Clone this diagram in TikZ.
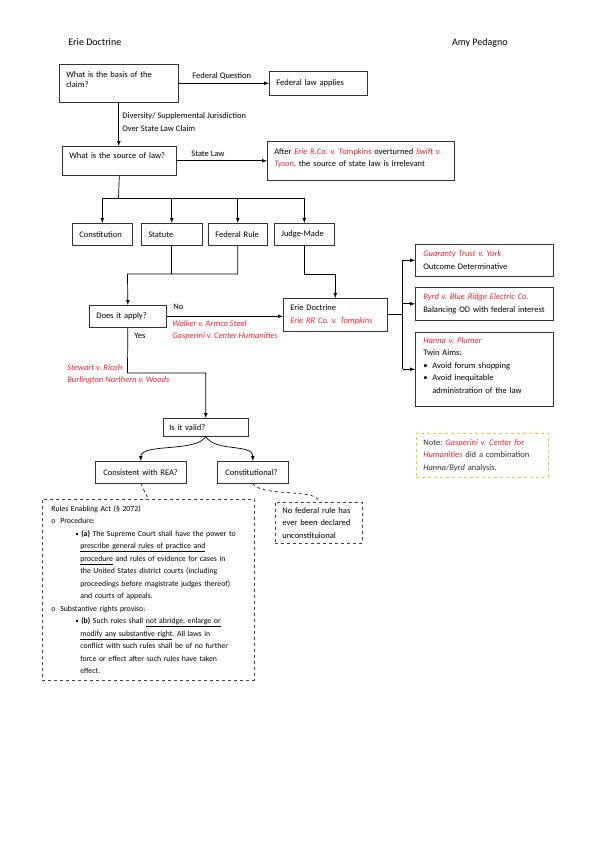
\documentclass[tikz,border=0pt]{standalone}
\usepackage{fontspec}
\setmainfont{Carlito}
\usepackage{tikz}

\definecolor{casered}{RGB}{232,34,46}
\definecolor{notegold}{RGB}{242,196,60}
\newcommand{\case}[1]{\textcolor{casered}{\textit{#1}}}
\newcommand{\sqb}{\raisebox{1.5pt}{\rule{2.1pt}{2.1pt}}}
\frenchspacing

\begin{document}
\begin{tikzpicture}[x=1pt,y=-1pt,>=latex,line width=0.7pt]
        \tikzstyle{every node} = [rectangle, inner sep=0pt, font=\fontsize{8.5}{12.5}\selectfont]
        \tikzstyle{box} = [draw=black!80, line width=0.6pt, anchor=north west, inner xsep=7pt, inner ysep=1pt, align=left]
        \tikzstyle{rbox} = [box, dashed, draw=black!75]
        \tikzstyle{lbl} = [anchor=base west]
        \useasboundingbox (0,0) rectangle (595,842);

        \node[anchor=base west, font=\fontsize{10}{12}\selectfont] (title) at (68,45.5) {Erie Doctrine};
        \node[anchor=base east, font=\fontsize{10}{12}\selectfont] (author) at (508,45.5) {Amy Pedagno};

        % questions and sources
        \node[box, text width=105pt, minimum height=38pt, text depth=18pt, font=\fontsize{8.5}{10}\selectfont] (basis) at (59,64) {What is the basis of the\\claim?};
        \node[box, text width=84pt, minimum height=24pt] (fedlaw) at (269,71) {Federal law applies};
        \node[box, text width=100pt, minimum height=29pt, text depth=11pt] (source) at (62,146) {What is the source of law?};
        \node[box, text width=173pt, minimum height=39pt, text depth=19pt] (irrel) at (267,141) {After \case{Erie R.Co. v.} \textcolor{casered}{Tompkins} overturned \case{Swift v.}\\\case{Tyson}, the source of state law is irrelevant};
        \node[box, text width=46pt, minimum height=22pt] (const) at (72,223) {Constitution};
        \node[box, text width=47pt, minimum height=22pt] (statute) at (141,223) {Statute};
        \node[box, text width=45pt, minimum height=22pt] (fedrule) at (208,223) {Federal Rule};
        \node[box, text width=46pt, minimum height=22pt] (judge) at (274,223) {Judge-Made};
        \node[box, text width=63pt, minimum height=22pt] (apply) at (89,305) {Does it apply?};
        \node[box, text width=90pt, minimum height=33pt] (erie) at (283,298) {Erie Doctrine\\\case{Erie RR Co. v. Tompkins}};

        % right column
        \node[box, inner xsep=8pt, text width=122pt, minimum height=32pt] (guar) at (415,244) {\case{Guaranty Trust v. York}\\Outcome Determinative};
        \node[box, inner xsep=8pt, text width=122pt, minimum height=33pt] (byrd) at (415,287) {\case{Byrd v. Blue Ridge Electric Co.}\\Balancing OD with federal interest};
        \node[box, inner xsep=8pt, text width=122pt, minimum height=74pt, text depth=58pt] (hanna) at (415,332) {\case{Hanna v. Plumer}\\Twin Aims:\\\makebox[9pt][l]{\textbullet}Avoid forum shopping\\\makebox[9pt][l]{\textbullet}Avoid inequitable\\\hspace*{9pt}administration of the law};
        \node[box, dashed, draw=notegold, text=black!80, text width=118pt, minimum height=44pt] (note) at (416,433) {Note: \case{Gasperini v. Center for}\\\case{Humanities} did a combination\\\textit{Hanna/Byrd} analysis.};

        % validity
        \node[box, inner xsep=6pt, text width=73pt, minimum height=18pt] (valid) at (163,418) {Is it valid?};
        \node[box, inner xsep=8pt, text width=75pt, minimum height=22pt] (rea) at (95,461) {Consistent with REA?};
        \node[box, inner xsep=8pt, text width=55pt, minimum height=22pt] (constq) at (217,461) {Constitutional?};
        \node[rbox, inner xsep=9pt, text width=194pt, minimum height=181pt, font=\fontsize{7.8}{12.5}\selectfont] (rules) at (42,499) {\mbox{Rules Enabling Act (§ 2072)}\\
            \mbox{\makebox[9pt][l]{o}Procedure:}\\
            \mbox{\hspace*{25pt}\makebox[5pt][l]{\sqb}\textbf{(a)} The Supreme Court shall have the power to}\\
            \mbox{\hspace*{29pt}\underline{prescribe general rules of practice and}}\\
            \mbox{\hspace*{29pt}\underline{procedure} and rules of evidence for cases in}\\
            \mbox{\hspace*{29pt}the United States district courts (including}\\
            \mbox{\hspace*{29pt}proceedings before magistrate judges thereof)}\\
            \mbox{\hspace*{29pt}and courts of appeals.}\\
            \mbox{\makebox[9pt][l]{o}Substantive rights proviso:}\\
            \mbox{\hspace*{25pt}\makebox[5pt][l]{\sqb}\textbf{(b)} Such rules shall \underline{not abridge, enlarge or}}\\
            \mbox{\hspace*{29pt}\underline{modify any substantive right}. All laws in}\\
            \mbox{\hspace*{29pt}conflict with such rules shall be of no further}\\
            \mbox{\hspace*{29pt}force or effect after such rules have taken}\\
            \mbox{\hspace*{29pt}effect.}};
        \node[rbox, text width=73pt, minimum height=41pt] (nofed) at (275,502) {No federal rule has\\ever been declared\\unconstituional};

        % labels on the links
        \node[lbl] (fq) at (192,79) {Federal Question};
        \node[lbl] (div) at (122,119) {Diversity/ Supplemental Jurisdiction};
        \node[lbl] (over) at (122,132) {Over State Law Claim};
        \node[lbl] (stl) at (191,157) {State Law};
        \node[lbl] (no) at (173,309) {No};
        \node[lbl] (walker) at (172,326) {\case{Walker v. Armco Steel}};
        \node[lbl] (gasp) at (172,338) {\case{Gasperini v. Center Humanities}};
        \node[lbl] (yes) at (134,338) {Yes};
        \node[lbl] (stewart) at (67,370) {\case{Stewart v. Ricoh}};
        \node[lbl] (burl) at (67,382) {\case{Burlington Northern v. Woods}};

        \coordinate (split) at (118.5,198);
        \coordinate (join) at (127.5,274);
        \coordinate (yesbend) at (127.5,373);

        \draw[->] (basis) -- (fedlaw);
        \draw[->] (basis.south) -- (basis.south |- source.north);
        \draw[->] (source) -- (irrel);
        \draw (source.south) -- (split);
        \draw (const.north |- split) -- (judge.north |- split);
        \foreach \to in {const, statute, fedrule, judge}
            \draw[->] (\to.north |- split) -- (\to.north);
        \draw (statute.south) -- (statute.south |- join);
        \draw[->] (fedrule.south) |- (join) -- (apply.north);
        \draw[->] (judge.south) |- (join -| erie.north) -- (erie.north);
        \draw[->] (apply.east) -- (apply.east -| erie.west);
        \draw[->] (apply.south) -- (yesbend) -| (valid.north);
        \draw (erie.east) -- ++(15,0) coordinate (fork);
        \draw (fork |- guar.west) -- (fork |- hanna.west);
        \foreach \to in {guar, byrd, hanna}
            \draw[->] (fork |- \to.west) -- (\to.west);
        \draw[->] (valid.south) .. controls +(-10,16) and +(0,-18) .. (rea.north);
        \draw[->] (valid.south) .. controls +(10,16) and +(0,-18) .. (constq.north);
        \draw[dashed, line width=0.6pt] (rea.south) -- (rules.north);
        \draw[dashed, line width=0.6pt] (constq.south) .. controls +(10,14) and +(0,-14) .. (nofed.north);
\end{tikzpicture}
\end{document}
